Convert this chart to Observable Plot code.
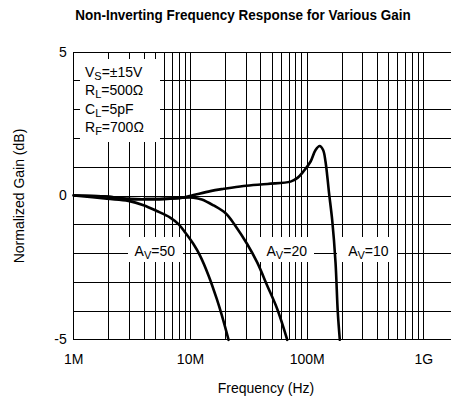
<!DOCTYPE html>
<html><head><meta charset="utf-8">
<script src="https://cdn.jsdelivr.net/npm/d3@7"></script>
<script src="https://cdn.jsdelivr.net/npm/@observablehq/plot@0.6"></script>
<style>
body{margin:0;background:#fff;font-family:"Liberation Sans",Arial,sans-serif;color:#000;}
#wrap{position:relative;width:451px;height:401px;overflow:hidden;background:#fff;}
#title{position:absolute;left:243px;top:0;height:30px;line-height:30px;white-space:nowrap;
  font-family:"Liberation Sans",Arial,sans-serif;font-weight:bold;font-size:14px;
  transform:translateX(-50%) scaleX(0.963);transform-origin:center;}
#chart{position:absolute;left:0;top:30px;}
.lbl{position:absolute;font-size:14px;white-space:nowrap;line-height:16px;}
.sub{font-size:11px;position:relative;top:3px;}
#ylab{position:absolute;font-size:14px;white-space:nowrap;transform:translate(-50%,-50%) rotate(-90deg);}
#xlab{position:absolute;font-size:14px;white-space:nowrap;transform:translate(-50%,-50%);}
</style>
</head><body>
<div id="wrap">
  <div id="title">Non-Inverting Frequency Response for Various Gain</div>
  <div id="chart"></div>
</div>
<script>
// ---- data ----
const av10Freq = [1e6, 1.92e6, 2.94e6, 4.3e6, 6.7e6, 8.5e6, 10.6e6, 14.8e6, 19.3e6, 28.5e6, 45.7e6, 72e6, 82.6e6, 93.6e6, 107e6, 118e6, 128e6, 137e6, 143.6e6, 148.6e6, 153.5e6, 164e6, 175e6, 183e6, 190.5e6];
const av10Gain = [0.02, -0.02, -0.1, -0.11, -0.09, -0.06, 0.03, 0.17, 0.25, 0.35, 0.42, 0.5, 0.63, 0.87, 1.2, 1.6, 1.74, 1.6, 1.2, 0.7, 0.15, -0.85, -2.31, -4.04, -5];
const av20Freq = [1e6, 1.92e6, 2.94e6, 4.3e6, 6.7e6, 8.5e6, 10.6e6, 12.5e6, 15.8e6, 20e6, 24.3e6, 30.6e6, 37.3e6, 45.5e6, 55.4e6, 67.5e6];
const av20Gain = [0.02, -0.02, -0.1, -0.11, -0.09, -0.06, -0.06, -0.12, -0.33, -0.6, -1.04, -1.67, -2.31, -3.12, -3.93, -5];
const av50Freq = [1e6, 1.92e6, 2.94e6, 3.96e6, 5.14e6, 6.7e6, 7.89e6, 9.01e6, 10.6e6, 12.1e6, 14.3e6, 16.8e6, 18.6e6, 21.2e6];
const av50Gain = [0.02, -0.094, -0.17, -0.32, -0.52, -0.75, -0.98, -1.27, -1.67, -2.08, -2.77, -3.58, -4.16, -5];

const xGrid = [1e6,2e6,3e6,4e6,5e6,6e6,7e6,8e6,9e6,1e7,2e7,3e7,4e7,5e7,6e7,7e7,8e7,9e7,1e8,2e8,3e8,4e8,5e8,6e8,7e8,8e8,9e8,1e9];
const yGrid = [-5,-4,-3,-2,-1,0,1,2,3,4,5];
const xTicks = [1e6, 1e7, 1e8, 1e9];
const xTickLabels = ["1M", "10M", "100M", "1G"];
const yTicks = [-5, 0, 5];
const yTickLabels = ["-5", "0", "5"];

const curveLabels = ["A<span class='sub'>V</span>=50", "A<span class='sub'>V</span>=20", "A<span class='sub'>V</span>=10"];
const curveLabelFreq = [4.99e6, 67.5e6, 338e6];
const curveLabelGain = -2;
const legendLines = ["V<span class='sub'>S</span>=±15V", "R<span class='sub'>L</span>=500Ω", "C<span class='sub'>L</span>=5pF", "R<span class='sub'>F</span>=700Ω"];
const legendGain = [4.27, 3.65, 2.99, 2.36];

// ---- annotation boxes (data units) ----
const boxes = [
  {x1: 1.14e6, x2: 5.54e6, y1: 1.86, y2: 4.73},
  {x1: 2.94e6, x2: 8.71e6, y1: -2.32, y2: -1.46},
  {x1: 33.4e6, x2: 115.6e6, y1: -2.32, y2: -1.46},
  {x1: 182e6, x2: 594e6, y1: -2.32, y2: -1.46}
];

const rows = (fs, gs) => fs.map((f, i) => ({f, g: gs[i]}));
const lineOpts = {x: "f", y: "g", curve: "catmull-rom", stroke: "black", strokeWidth: 2.6, strokeLinejoin: "round"};

const plot = Plot.plot({
  width: 451, height: 371,
  marginLeft: 73.3, marginRight: 0, marginTop: 21.7, marginBottom: 61.7,
  style: {fontFamily: "'Liberation Sans', Arial, sans-serif", fontSize: "14px", background: "transparent", overflow: "visible"},
  x: {type: "log", domain: [1e6, 1.726e9]},
  y: {domain: [-5, 5]},
  marks: [
    Plot.ruleX(xGrid, {stroke: "black", strokeWidth: 1, shapeRendering: "crispEdges"}),
    Plot.ruleY(yGrid, {stroke: "black", strokeWidth: 1, shapeRendering: "crispEdges"}),
    Plot.rect(boxes, {x1: "x1", x2: "x2", y1: "y1", y2: "y2", fill: "white", shapeRendering: "crispEdges"}),
    Plot.line(rows(av50Freq, av50Gain), lineOpts),
    Plot.line(rows(av20Freq, av20Gain), lineOpts),
    Plot.line(rows(av10Freq, av10Gain), lineOpts),
    Plot.axisX({ticks: xTicks, tickFormat: d => xTickLabels[xTicks.indexOf(d)], tickSize: 0, tickPadding: 14, label: null, fontSize: 14}),
    Plot.axisY({ticks: yTicks, tickFormat: d => yTickLabels[yTicks.indexOf(d)], tickSize: 0, tickPadding: 7, label: null, fontSize: 14})
  ]
});
document.getElementById("chart").appendChild(plot);

const sx = plot.scale("x"), sy = plot.scale("y");
const wrap = document.getElementById("wrap");
const top0 = 30;

curveLabels.forEach((t, i) => {
  const d = document.createElement("div");
  d.className = "lbl";
  d.innerHTML = t;
  d.style.left = sx.apply(curveLabelFreq[i]) + "px";
  d.style.top = (top0 + sy.apply(curveLabelGain) - 2) + "px";
  d.style.transform = "translate(-50%,-50%)";
  wrap.appendChild(d);
});

legendLines.forEach((t, i) => {
  const d = document.createElement("div");
  d.className = "lbl";
  d.innerHTML = t;
  d.style.left = (sx.apply(1.26e6)) + "px";
  d.style.top = (top0 + sy.apply(legendGain[i])) + "px";
  d.style.transform = "translate(0,-55%)";
  wrap.appendChild(d);
});

const yl = document.createElement("div");
yl.id = "ylab"; yl.textContent = "Normalized Gain (dB)";
yl.style.left = "19px"; yl.style.top = (top0 + sy.apply(0)) + "px";
wrap.appendChild(yl);

const xl = document.createElement("div");
xl.id = "xlab"; xl.textContent = "Frequency (Hz)";
xl.style.left = "266px"; xl.style.top = "388px";
wrap.appendChild(xl);
</script>
</body></html>
